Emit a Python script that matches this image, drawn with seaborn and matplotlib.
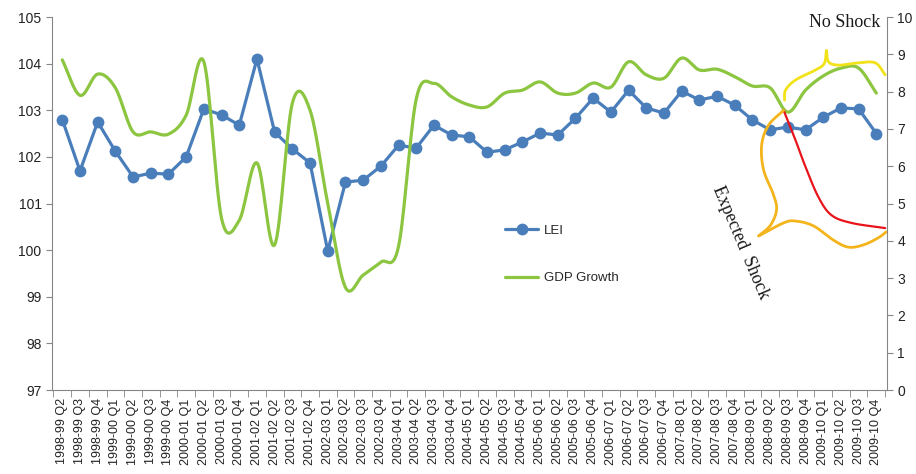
import numpy as np
import pandas as pd
import seaborn as sns
import matplotlib.pyplot as plt

# quarters on the x axis
quarters = [
    "1998-99 Q2", "1998-99 Q3", "1998-99 Q4",
    "1999-00 Q1", "1999-00 Q2", "1999-00 Q3", "1999-00 Q4",
    "2000-01 Q1", "2000-01 Q2", "2000-01 Q3", "2000-01 Q4",
    "2001-02 Q1", "2001-02 Q2", "2001-02 Q3", "2001-02 Q4",
    "2002-03 Q1", "2002-03 Q2", "2002-03 Q3", "2002-03 Q4",
    "2003-04 Q1", "2003-04 Q2", "2003-04 Q3", "2003-04 Q4",
    "2004-05 Q1", "2004-05 Q2", "2004-05 Q3", "2004-05 Q4",
    "2005-06 Q1", "2005-06 Q2", "2005-06 Q3", "2005-06 Q4",
    "2006-07 Q1", "2006-07 Q2", "2006-07 Q3", "2006-07 Q4",
    "2007-08 Q1", "2007-08 Q2", "2007-08 Q3", "2007-08 Q4",
    "2008-09 Q1", "2008-09 Q2", "2008-09 Q3", "2008-09 Q4",
    "2009-10 Q1", "2009-10 Q2", "2009-10 Q3", "2009-10 Q4",
]

# leading economic index (left axis)
lei = [102.8, 101.7, 102.75, 102.12, 101.57, 101.65, 101.63, 102.0,
       103.03, 102.9, 102.68, 104.1, 102.53, 102.17, 101.87, 99.98,
       101.46, 101.5, 101.8, 102.25, 102.19, 102.68, 102.47, 102.43,
       102.1, 102.15, 102.32, 102.51, 102.47, 102.83, 103.26, 102.96,
       103.43, 103.05, 102.94, 103.41, 103.22, 103.3, 103.11, 102.79,
       102.58, 102.64, 102.58, 102.85, 103.05, 103.03, 102.5]

# GDP growth (right axis)
gdp = [8.85, 7.9, 8.47, 8.1, 6.92, 6.92, 6.86, 7.37,
       8.8, 4.6, 4.55, 6.09, 3.89, 7.69, 7.5, 5.0,
       2.75, 3.08, 3.43, 3.85, 7.8, 8.22, 7.86, 7.64,
       7.59, 7.96, 8.04, 8.26, 7.96, 7.96, 8.23, 8.12,
       8.8, 8.45, 8.36, 8.9, 8.58, 8.6, 8.4, 8.15,
       8.1, 7.45, 8.04, 8.42, 8.63, 8.63, 7.96]

# hand drawn scenario annotations (quarter index, right axis units)
shock_x = [40.76, 41.43, 42.0, 42.73, 43.46, 44.59, 46.5]
shock_y = [7.5, 6.7, 5.98, 5.17, 4.69, 4.48, 4.34]
noshock_left_x = [40.81, 40.87, 41.43, 42.56, 43.05, 43.18]
noshock_left_y = [7.77, 8.04, 8.31, 8.58, 8.75, 9.1]
noshock_right_x = [43.18, 43.3, 43.86, 44.98, 45.94, 46.5]
noshock_right_y = [9.1, 8.8, 8.71, 8.77, 8.77, 8.45]
brace_left_x = [40.76, 39.91, 39.52, 39.63, 40.19, 40.36, 40.02, 39.35]
brace_left_y = [7.5, 7.1, 6.57, 5.9, 5.23, 4.83, 4.42, 4.13]
brace_bottom_x = [39.35, 40.76, 41.43, 42.45, 43.57, 44.42, 45.27, 46.11, 46.56]
brace_bottom_y = [4.13, 4.48, 4.53, 4.4, 4.02, 3.83, 3.89, 4.08, 4.24]


def smooth(px, py, n=16):
    # catmull-rom, close to excel's "smoothed line"
    p = np.column_stack([px, py]).astype(float)
    p = np.vstack([2 * p[0] - p[1], p, 2 * p[-1] - p[-2]])
    t = np.linspace(0, 1, n, endpoint=False)[:, None]
    out = []
    for i in range(1, len(p) - 2):
        p0, p1, p2, p3 = p[i - 1], p[i], p[i + 1], p[i + 2]
        out.append(0.5 * (2 * p1 + (-p0 + p2) * t
                          + (2 * p0 - 5 * p1 + 4 * p2 - p3) * t ** 2
                          + (-p0 + 3 * p1 - 3 * p2 + p3) * t ** 3))
    out.append(p[-2][None, :])
    c = np.vstack(out)
    return c[:, 0], c[:, 1]


sns.set_style("white")
plt.rcParams["font.family"] = ["Liberation Sans", "DejaVu Sans"]

blue = "#4a7ebb"
green = "#8cc540"
grey = "#868686"

fig = plt.figure(figsize=(9.16, 4.74), dpi=100)
ax = fig.add_axes([0.0568, 0.1772, 0.9115, 0.7869])

pos = np.arange(len(quarters))
df = pd.DataFrame({"pos": pos, "LEI": lei})
sns.lineplot(data=df, x="pos", y="LEI", ax=ax, color=blue, lw=2.3,
             marker="o", markersize=8.5, markeredgewidth=0, label="LEI",
             legend=False)

ax2 = ax.twinx()
gx, gy = smooth(pos, gdp)
ax2.plot(gx, gy, color=green, lw=2.3, label="GDP Growth")

# scenario curves
sx, sy = smooth(shock_x, shock_y)
ax2.plot(sx, sy, color="#e8141b", lw=1.6, clip_on=False)
for cx, cy in [(noshock_left_x, noshock_left_y), (noshock_right_x, noshock_right_y)]:
    xx, yy = smooth(cx, cy)
    ax2.plot(xx, yy, color="#f2e21a", lw=2.0, clip_on=False)
for cx, cy in [(brace_left_x, brace_left_y), (brace_bottom_x, brace_bottom_y)]:
    xx, yy = smooth(cx, cy)
    ax2.plot(xx, yy, color="#f4b41c", lw=2.0, clip_on=False)

ax2.text(46.2, 9.86, "No Shock", family=["Liberation Serif", "DejaVu Serif"],
         fontsize=13, ha="right", va="center", color="#1a1a1a")
ax2.text(38.35, 3.95, "Expected  Shock", family=["Liberation Serif", "DejaVu Serif"],
         fontsize=13, rotation=-67, ha="center", va="center", color="#1a1a1a")

ax.set_xlim(-0.58, 46.6)
ax.set_ylim(97, 105)
ax2.set_ylim(0, 10)
ax.set_xlabel("")
ax.set_ylabel("")

ax.set_xticks(pos)
ax.set_xticklabels(quarters, rotation=90, fontsize=9, color="#222222")
ax.set_xticks(np.arange(-0.5, len(quarters), 1), minor=True)
ax.tick_params(axis="x", which="major", length=0, pad=6)
ax.tick_params(axis="x", which="minor", length=5, color=grey, direction="out", bottom=True)
ax.set_yticks(range(97, 106))
ax.tick_params(axis="y", length=4, color=grey, direction="out", left=True,
               labelsize=10, labelcolor="#222222")
ax2.set_yticks(range(0, 11))
ax2.tick_params(axis="y", length=4, color=grey, direction="out", right=True,
                labelsize=10, labelcolor="#222222")

for a in (ax, ax2):
    a.spines["top"].set_visible(False)
    for s in a.spines.values():
        s.set_color(grey)
ax.spines["right"].set_visible(False)
ax2.spines["left"].set_visible(False)
ax2.spines["bottom"].set_visible(False)

h1, l1 = ax.get_legend_handles_labels()
h2, l2 = ax2.get_legend_handles_labels()
ax.legend(h1 + h2, ["LEI", "GDP Growth"], loc="upper left",
          bbox_to_anchor=(0.535, 0.462), frameon=False, fontsize=9.5,
          handlelength=2.5, handletextpad=0.4, labelspacing=2.7, borderpad=0)

fig.savefig("out.png", dpi=100)
